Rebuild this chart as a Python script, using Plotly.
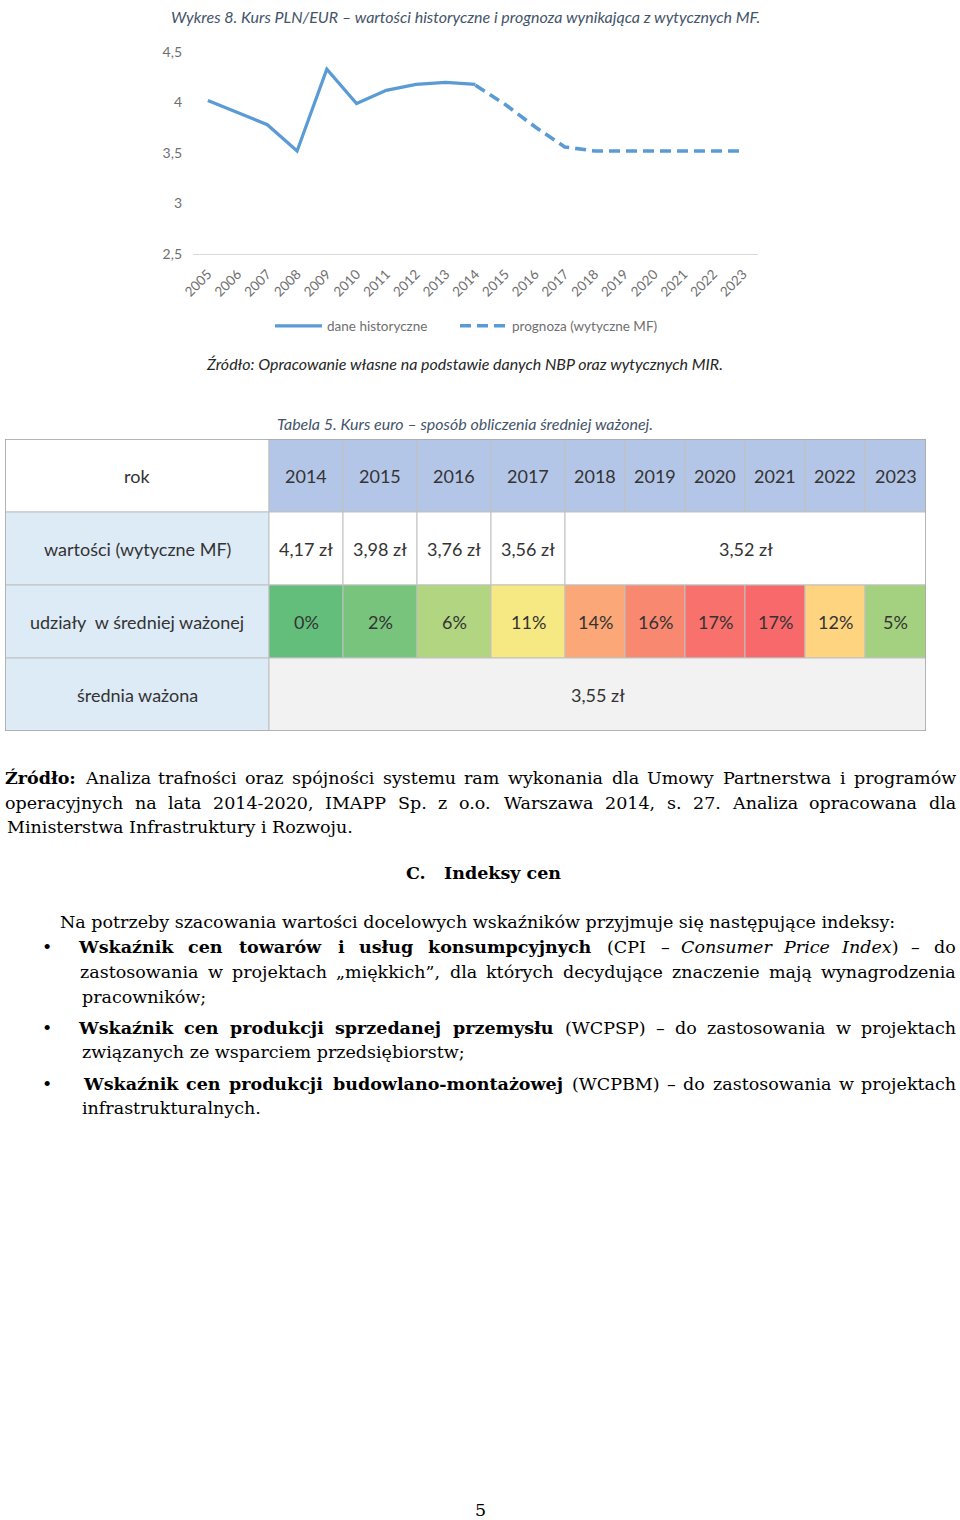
import unicodedata
import plotly.graph_objects as go

# ---------------- data ----------------
years_all = ["2005", "2006", "2007", "2008", "2009", "2010", "2011", "2012", "2013", "2014",
             "2015", "2016", "2017", "2018", "2019", "2020", "2021", "2022", "2023"]
years_hist = ["2005", "2006", "2007", "2008", "2009", "2010", "2011", "2012", "2013", "2014"]
rate_hist = [4.02, 3.90, 3.78, 3.52, 4.33, 3.99, 4.12, 4.18, 4.20, 4.18]
years_fc = ["2014", "2015", "2016", "2017", "2018", "2019", "2020", "2021", "2022", "2023"]
rate_fc = [4.17, 3.98, 3.76, 3.56, 3.52, 3.52, 3.52, 3.52, 3.52, 3.52]
y_ticks = [2.5, 3, 3.5, 4, 4.5]
y_tick_text = ["2,5", "3", "3,5", "4", "4,5"]
legend_names = ["dane historyczne", "prognoza (wytyczne MF)"]

table_years = ["2014", "2015", "2016", "2017", "2018", "2019", "2020", "2021", "2022", "2023"]
table_values = ["4,17 zł", "3,98 zł", "3,76 zł", "3,56 zł", "3,52 zł"]
table_value_spans = [1, 1, 1, 1, 6]
table_shares = ["0%", "2%", "6%", "11%", "14%", "16%", "17%", "17%", "12%", "5%"]
weighted_avg = "3,55 zł"
row_labels = ["rok", "wartości (wytyczne MF)", "udziały\u00a0 w średniej ważonej", "średnia ważona"]

chart_title = "Wykres 8. Kurs PLN/EUR – wartości historyczne i prognoza wynikająca z wytycznych MF."
chart_source = "Źródło: Opracowanie własne na podstawie danych NBP oraz wytycznych MIR."
table_title = "Tabela 5. Kurs euro – sposób obliczenia średniej ważonej."

# ---------------- styles ----------------
W, H = 960, 1520
LINE_BLUE = "#5b9bd5"
GRAY_TXT = "#6f6f6f"
CAP_BLUE = "#44546a"
share_colors = ["#63be7b", "#79c47c", "#b1d580", "#f6e883", "#fba777", "#f98871",
                "#f8716c", "#f8696b", "#fed480", "#a4d17f"]
col_widths = [264, 74, 74, 74, 74, 60, 60, 60, 60, 60, 61]
TABLE_X0, TABLE_X1, TABLE_Y0, TABLE_Y1 = 5, 926, 439, 731


def px(x):
    return x / W


def py(y):
    return 1 - y / H


fig = go.Figure()

fig.add_trace(go.Scatter(x=years_hist, y=rate_hist, mode="lines", name=legend_names[0],
                         line=dict(color=LINE_BLUE, width=3.2), xaxis="x", yaxis="y",
                         legend="legend"))
fig.add_trace(go.Scatter(x=years_fc, y=rate_fc, mode="lines", name=legend_names[1],
                         line=dict(color=LINE_BLUE, width=3.6, dash="11px,6px"),
                         xaxis="x", yaxis="y", legend="legend2"))

annotations = []
shapes = []

# chart texts
annotations.append(dict(text="<i>" + chart_title + "</i>", x=px(465), y=py(16), xref="paper", yref="paper",
                        showarrow=False, xanchor="center", yanchor="middle",
                        font=dict(family="Lato", size=16, color=CAP_BLUE)))
annotations.append(dict(text="<i>" + chart_source + "</i>", x=px(464), y=py(364), xref="paper", yref="paper",
                        showarrow=False, xanchor="center", yanchor="middle",
                        font=dict(family="Lato", size=16, color="#262626")))
annotations.append(dict(text="<i>" + table_title + "</i>", x=px(465), y=py(423), xref="paper", yref="paper",
                        showarrow=False, xanchor="center", yanchor="middle",
                        font=dict(family="Lato", size=16, color=CAP_BLUE)))

# ---------------- table ----------------
edges = [0]
for w in col_widths:
    edges.append(edges[-1] + w)

TFONT = dict(family="Lato", size=18, color="#333333")


def cell(c0, c1, r, fill, text=None):
    shapes.append(dict(type="rect", xref="x2", yref="y2", x0=edges[c0], x1=edges[c1],
                       y0=r, y1=r + 1, fillcolor=fill, line=dict(color="#c0c0c0", width=1),
                       layer="below"))
    if text is not None:
        annotations.append(dict(text=text, x=(edges[c0] + edges[c1]) / 2, y=r + 0.5,
                                xref="x2", yref="y2", showarrow=False,
                                xanchor="center", yanchor="middle", font=TFONT))


# header row
cell(0, 1, 0, "#ffffff", row_labels[0])
for i, yr in enumerate(table_years):
    cell(i + 1, i + 2, 0, "#b4c6e7", yr)
# values row
cell(0, 1, 1, "#ddebf7", row_labels[1])
c = 1
for v, s in zip(table_values, table_value_spans):
    cell(c, c + s, 1, "#ffffff", v)
    c += s
# shares row
cell(0, 1, 2, "#ddebf7", row_labels[2])
for i, (s, col) in enumerate(zip(table_shares, share_colors)):
    cell(i + 1, i + 2, 2, col, s)
# weighted avg row
cell(0, 1, 3, "#ddebf7", row_labels[3])
cell(1, len(col_widths), 3, "#f2f2f2", weighted_avg)
# outer border
shapes.append(dict(type="rect", xref="x2", yref="y2", x0=0, x1=edges[-1], y0=0, y1=4,
                   line=dict(color="#a6a6a6", width=1.5), fillcolor="rgba(0,0,0,0)"))

# ---------------- body text ----------------
CW = {'a': .596, 'b': .640, 'c': .560, 'd': .640, 'e': .592, 'f': .370, 'g': .640, 'h': .644,
      'i': .320, 'j': .310, 'k': .606, 'l': .320, 'm': .948, 'n': .644, 'o': .602, 'p': .640,
      'q': .640, 'r': .478, 's': .513, 't': .402, 'u': .644, 'v': .565, 'w': .856, 'x': .564,
      'y': .565, 'z': .523, 'A': .722, 'B': .735, 'C': .765, 'D': .802, 'E': .730, 'F': .694,
      'G': .799, 'H': .872, 'I': .395, 'J': .401, 'K': .747, 'L': .664, 'M': 1.024, 'N': .875,
      'O': .820, 'P': .673, 'R': .753, 'S': .685, 'T': .667, 'U': .843, 'V': .722, 'W': 1.028,
      'Z': .686, ' ': .318, ',': .318, '.': .318, ':': .337, ';': .337, '(': .390, ')': .390,
      '–': .500, '-': .338, '„': .500, '”': .500}
BODY = "DejaVu Serif"
BSIZE = 17.5


def char_w(ch):
    if ch in ('ł', 'Ł'):
        ch = 'l' if ch == 'ł' else 'L'
    base = unicodedata.normalize('NFD', ch)[0]
    if base in CW:
        return CW[base]
    if base.isdigit():
        return .636
    return .72 if base.isupper() else .6


def text_w(s, st):
    w = sum(char_w(ch) for ch in s) * BSIZE
    if 'b' in st:
        w *= 1.12
    if 'i' in st:
        w *= 0.95
    return w


def wrap(s, st):
    if 'b' in st:
        s = "<b>" + s + "</b>"
    if 'i' in st:
        s = "<i>" + s + "</i>"
    return s


def split_words(runs):
    words, cur = [], []
    for text, st in runs:
        parts = text.split(" ")
        for k, p in enumerate(parts):
            if k > 0 and cur:
                words.append(cur)
                cur = []
            if p:
                cur.append((p, st))
    if cur:
        words.append(cur)
    return words


def body_line(runs, y, x0, x1=None):
    if x1 is None:
        html = "".join(wrap(t, st) for t, st in runs)
        annotations.append(dict(text=html, x=px(x0), y=py(y), xref="paper", yref="paper",
                                showarrow=False, xanchor="left", yanchor="middle",
                                font=dict(family=BODY, size=BSIZE, color="#000000")))
        return
    words = split_words(runs)
    widths = [sum(text_w(p, st) for p, st in wd) for wd in words]
    gap = (x1 - x0 - sum(widths)) / (len(words) - 1)
    pos = x0
    for wd, w in zip(words, widths):
        html = "".join(wrap(p, st) for p, st in wd)
        annotations.append(dict(text=html, x=px(pos + w / 2), y=py(y), xref="paper", yref="paper",
                                showarrow=False, xanchor="center", yanchor="middle",
                                font=dict(family=BODY, size=BSIZE, color="#000000")))
        pos += w + gap


body_line([("Źródło:", "b"), (" Analiza trafności oraz spójności systemu ram wykonania dla Umowy Partnerstwa i programów", "")], 778, 5, 956)
body_line([("operacyjnych na lata 2014-2020, IMAPP Sp. z o.o. Warszawa 2014, s. 27. Analiza opracowana dla", "")], 803, 5, 956)
body_line([("Ministerstwa Infrastruktury i Rozwoju.", "")], 827, 5)
body_line([("C.", "b")], 873, 404)
body_line([("Indeksy cen", "b")], 873, 442)
body_line([("Na potrzeby szacowania wartości docelowych wskaźników przyjmuje się następujące indeksy:", "")], 922, 58)
body_line([("Wskaźnik cen towarów i usług konsumpcyjnych", "b"), (" (CPI – ", ""), ("Consumer Price Index", "i"), (") – do", "")], 947, 79, 956)
body_line([("zastosowania w projektach „miękkich”, dla których decydujące znaczenie mają wynagrodzenia", "")], 972, 80, 956)
body_line([("pracowników;", "")], 997, 80)
body_line([("Wskaźnik cen produkcji sprzedanej przemysłu", "b"), (" (WCPSP) – do zastosowania w projektach", "")], 1028, 79, 956)
body_line([("związanych ze wsparciem przedsiębiorstw;", "")], 1052, 80)
body_line([("Wskaźnik cen produkcji budowlano-montażowej", "b"), (" (WCPBM) – do zastosowania w projektach", "")], 1084, 84, 956)
body_line([("infrastrukturalnych.", "")], 1108, 80)
for by in (947, 1028, 1084):
    annotations.append(dict(text="•", x=px(47), y=py(by), xref="paper", yref="paper", showarrow=False,
                            xanchor="center", yanchor="middle",
                            font=dict(family=BODY, size=BSIZE, color="#000000")))
annotations.append(dict(text="5", x=px(480), y=py(1510), xref="paper", yref="paper", showarrow=False,
                        xanchor="center", yanchor="middle",
                        font=dict(family=BODY, size=BSIZE, color="#000000")))

LEG_STYLE = dict(orientation="h", xanchor="left", y=py(326), yanchor="middle",
                 font=dict(family="Lato", size=13.5, color=GRAY_TXT), bgcolor="rgba(0,0,0,0)",
                 itemwidth=47, tracegroupgap=0)

fig.update_layout(
    width=W, height=H, margin=dict(l=0, r=0, t=0, b=0, pad=0, autoexpand=False),
    paper_bgcolor="#ffffff", plot_bgcolor="rgba(0,0,0,0)",
    showlegend=True,
    legend=dict(x=px(270), **LEG_STYLE),
    legend2=dict(x=px(455), **LEG_STYLE),
    xaxis=dict(domain=[px(193), px(758)], type="category", categoryorder="array",
               categoryarray=years_all, range=[-0.5, len(years_all) - 0.5],
               showgrid=False, zeroline=False, showline=True, linecolor="#d9d9d9", linewidth=1.2,
               ticks="", tickangle=-45, ticklabelstandoff=6, automargin=False,
               tickfont=dict(family="Lato", size=13.5, color=GRAY_TXT),
               fixedrange=True, anchor="y"),
    yaxis=dict(domain=[py(254), py(52)], range=[2.5, 4.5], tickvals=y_ticks, ticktext=y_tick_text,
               showgrid=False, zeroline=False, showline=False, ticks="", ticklabelstandoff=10,
               automargin=False,
               tickfont=dict(family="Lato", size=14, color=GRAY_TXT), fixedrange=True, anchor="x"),
    xaxis2=dict(domain=[px(TABLE_X0), px(TABLE_X1)], range=[0, edges[-1]], visible=False,
                fixedrange=True, anchor="y2", automargin=False),
    yaxis2=dict(domain=[py(TABLE_Y1), py(TABLE_Y0)], range=[4, 0], visible=False,
                fixedrange=True, anchor="x2", automargin=False),
    annotations=annotations,
    shapes=shapes,
)

fig.write_html("out.html")
